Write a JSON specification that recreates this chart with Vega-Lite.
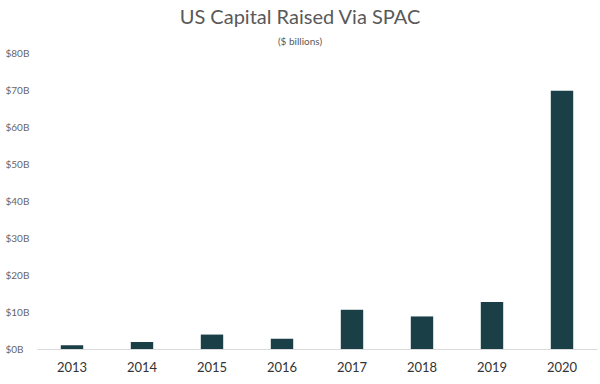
{
  "$schema": "https://vega.github.io/schema/vega-lite/v6.json",
  "width": 560,
  "height": 296,
  "autosize": {"type": "none"},
  "padding": {"left": 37, "top": 53, "right": 3, "bottom": 35},
  "background": "white",
  "title": {
    "text": "US Capital Raised Via SPAC",
    "subtitle": "($ billions)",
    "anchor": "middle",
    "dx": -17,
    "offset": 1,
    "font": "Lato",
    "fontSize": 20,
    "fontWeight": "normal",
    "color": "#595959",
    "subtitleFont": "Lato",
    "subtitleFontSize": 10,
    "subtitleColor": "#595959",
    "subtitlePadding": 9
  },
  "data": {
    "values": [
      {"year": "2013", "value": 1.0},
      {"year": "2014", "value": 1.9},
      {"year": "2015", "value": 3.9},
      {"year": "2016", "value": 2.8},
      {"year": "2017", "value": 10.6},
      {"year": "2018", "value": 8.8},
      {"year": "2019", "value": 12.7},
      {"year": "2020", "value": 69.8}
    ]
  },
  "mark": {"type": "bar", "color": "#1a3f47"},
  "encoding": {
    "x": {
      "field": "year",
      "type": "ordinal",
      "scale": {"paddingInner": 0.68, "paddingOuter": 0.34},
      "axis": {
        "title": null,
        "labelAngle": 0,
        "ticks": false,
        "tickSize": 0,
        "domainColor": "#d9d9d9",
        "labelFont": "Lato",
        "labelFontSize": 13,
        "labelColor": "#333333",
        "labelPadding": 12
      }
    },
    "y": {
      "field": "value",
      "type": "quantitative",
      "scale": {"domain": [0, 80]},
      "axis": {
        "title": null,
        "values": [0, 10, 20, 30, 40, 50, 60, 70, 80],
        "labelExpr": "'$' + datum.value + 'B'",
        "grid": false,
        "domain": false,
        "ticks": false,
        "tickSize": 0,
        "labelAlign": "left",
        "labelPadding": 32,
        "labelFont": "Lato",
        "labelFontSize": 10,
        "labelColor": "#666666"
      }
    }
  },
  "config": {"view": {"stroke": null}}
}
